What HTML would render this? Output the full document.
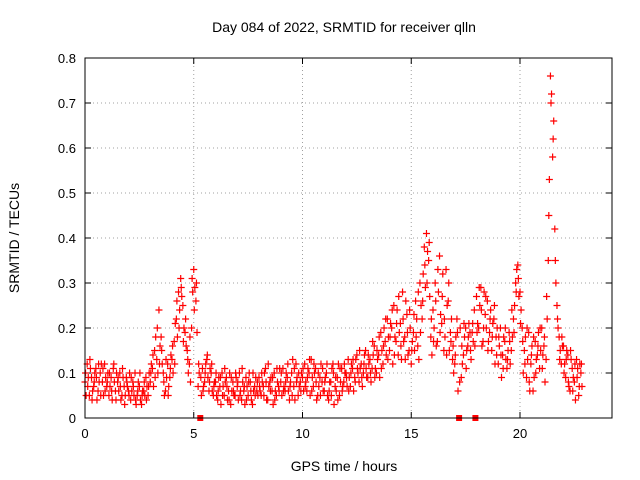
<!DOCTYPE html>
<html><head><meta charset="utf-8">
<style>
body{margin:0;background:#fff;}
svg{display:block;font-family:"Liberation Sans",sans-serif;}
</style></head>
<body>
<svg id="chart" width="640" height="480">
<text x="344" y="32" font-size="14" text-anchor="middle">Day 084 of 2022, SRMTID for receiver qlln</text>
<text x="344" y="471" font-size="14" text-anchor="middle">GPS time / hours</text>
<text transform="translate(19,238) rotate(-90)" font-size="14" text-anchor="middle">SRMTID / TECUs</text>
<g id="grid"></g><g id="ticks"></g><g id="marks"></g>
<rect x="85" y="58" width="527" height="360" fill="none" stroke="#000" stroke-width="1"/>
</svg>
<script>
const xTicks=[0,5,10,15,20];
const yTicks=[0,0.1,0.2,0.3,0.4,0.5,0.6,0.7,0.8];
const yTickLabels=["0","0.1","0.2","0.3","0.4","0.5","0.6","0.7","0.8"];
const timeStep=0.1;
const seriesA=[0.08,0.12,0.05,0.09,0.07,0.11,0.06,0.10,0.08,0.12,0.07,0.05,0.09,0.11,0.06,0.08,0.10,0.05,0.07,0.09,0.06,0.04,0.08,0.10,0.05,0.07,0.03,0.06,0.09,0.05,
0.08,0.11,0.15,0.13,0.24,0.18,0.10,0.06,0.12,0.09,
0.13,0.17,0.22,0.28,0.31,0.25,0.19,0.15,0.12,0.20,
0.33,0.26,0.07,0.00,0.11,0.08,0.13,0.06,0.10,0.05,
0.08,0.04,0.07,0.10,0.05,0.09,0.06,0.03,0.08,0.05,
0.07,0.10,0.04,0.06,0.09,0.05,0.08,0.03,0.07,0.06,
0.09,0.05,0.07,0.11,0.04,0.08,0.06,0.10,0.05,0.07,
0.08,0.11,0.06,0.09,0.04,0.10,0.07,0.12,0.05,0.08,
0.09,0.12,0.06,0.10,0.13,0.07,0.11,0.05,0.09,0.08,
0.06,0.10,0.04,0.08,0.12,0.07,0.09,0.05,0.11,0.08,
0.10,0.13,0.07,0.11,0.09,0.14,0.08,0.12,0.10,0.15,
0.09,0.13,0.11,0.16,0.10,0.14,0.19,0.12,0.17,0.22,
0.15,0.20,0.25,0.17,0.14,0.21,0.28,0.18,0.23,0.15,
0.12,0.19,0.26,0.16,0.30,0.22,0.38,0.41,0.35,0.18,
0.24,0.30,0.17,0.36,0.21,0.15,0.33,0.26,0.19,0.13,
0.12,0.22,0.00,0.09,0.14,0.20,0.16,0.19,0.19,0.24,
0.27,0.20,0.29,0.17,0.23,0.26,0.19,0.15,0.22,0.18,
0.12,0.20,0.14,0.17,0.11,0.19,0.15,0.22,0.30,0.34,
0.28,0.20,0.15,0.09,0.19,0.12,0.06,0.17,0.14,0.11,
0.20,0.16,0.13,0.35,0.76,0.58,0.42,0.25,0.18,0.12,
0.16,0.09,0.14,0.06,0.11,0.08,0.13,0.05,0.10];
const seriesB=[0.05,0.09,0.11,0.06,0.10,0.04,0.08,0.12,0.05,0.09,0.10,0.07,0.04,0.08,0.10,0.06,0.04,0.09,0.05,0.07,0.10,0.06,0.05,0.03,0.08,0.04,0.06,0.05,0.07,0.10,
0.12,0.07,0.18,0.10,0.16,0.12,0.05,0.09,0.07,0.14,
0.10,0.21,0.18,0.24,0.27,0.20,0.16,0.10,0.08,0.28,
0.29,0.19,0.10,0.05,0.07,0.12,0.09,0.11,0.06,0.08,
0.05,0.09,0.03,0.07,0.08,0.04,0.10,0.06,0.05,0.09,
0.04,0.06,0.08,0.03,0.07,0.10,0.04,0.06,0.09,0.05,
0.06,0.08,0.10,0.04,0.07,0.09,0.03,0.06,0.08,0.11,
0.05,0.07,0.10,0.06,0.08,0.13,0.04,0.09,0.07,0.10,
0.06,0.08,0.11,0.05,0.09,0.10,0.04,0.07,0.12,0.06,
0.09,0.05,0.08,0.11,0.03,0.06,0.12,0.08,0.07,0.10,
0.07,0.09,0.12,0.06,0.13,0.10,0.11,0.07,0.14,0.09,
0.12,0.08,0.14,0.11,0.13,0.09,0.15,0.20,0.14,0.18,
0.21,0.12,0.18,0.24,0.19,0.13,0.17,0.26,0.14,0.20,
0.17,0.15,0.22,0.13,0.25,0.32,0.29,0.37,0.27,0.14,
0.20,0.16,0.28,0.23,0.32,0.18,0.25,0.15,0.22,0.10,
0.18,0.06,0.20,0.12,0.18,0.15,0.21,0.13,0.17,0.00,
0.21,0.25,0.16,0.28,0.20,0.17,0.24,0.21,0.12,0.20,
0.16,0.09,0.18,0.13,0.15,0.12,0.18,0.25,0.33,0.27,
0.24,0.10,0.18,0.13,0.06,0.16,0.09,0.13,0.19,0.15,
0.14,0.08,0.22,0.53,0.72,0.66,0.30,0.20,0.15,0.16,
0.12,0.15,0.07,0.13,0.09,0.04,0.11,0.12,0.07];
const seriesC=[0.10,0.07,0.13,0.04,0.08,0.09,0.12,0.05,0.11,0.06,0.08,0.10,0.06,0.12,0.04,0.09,0.07,0.11,0.03,0.08,0.05,0.09,0.07,0.04,0.06,0.10,0.05,0.08,0.04,0.07,
0.10,0.14,0.09,0.20,0.12,0.15,0.08,0.13,0.05,0.11,
0.16,0.12,0.26,0.20,0.29,0.17,0.22,0.13,0.18,0.31,
0.24,0.30,0.12,0.09,0.06,0.10,0.14,0.08,0.12,0.07,
0.10,0.06,0.09,0.05,0.11,0.07,0.04,0.09,0.06,0.10,
0.08,0.05,0.11,0.07,0.04,0.08,0.06,0.10,0.05,0.08,
0.07,0.10,0.05,0.08,0.12,0.06,0.09,0.04,0.11,0.06,
0.10,0.06,0.08,0.12,0.07,0.05,0.11,0.08,0.10,0.06,
0.11,0.07,0.09,0.13,0.06,0.12,0.08,0.10,0.05,0.11,
0.08,0.12,0.06,0.05,0.10,0.09,0.04,0.11,0.06,0.12,
0.09,0.06,0.10,0.13,0.08,0.11,0.15,0.09,0.12,0.11,
0.14,0.10,0.17,0.09,0.15,0.18,0.11,0.16,0.22,0.13,
0.18,0.24,0.14,0.21,0.27,0.16,0.22,0.13,0.19,0.24,
0.15,0.23,0.18,0.28,0.19,0.26,0.34,0.30,0.39,0.22,
0.17,0.26,0.33,0.19,0.27,0.22,0.14,0.30,0.17,0.16,
0.14,0.19,0.08,0.16,0.21,0.11,0.18,0.15,0.21,0.16,
0.19,0.29,0.24,0.20,0.27,0.15,0.22,0.18,0.25,0.14,
0.18,0.14,0.11,0.20,0.13,0.17,0.24,0.19,0.28,0.31,
0.21,0.17,0.12,0.20,0.08,0.14,0.18,0.10,0.16,0.20,
0.11,0.18,0.27,0.45,0.70,0.62,0.35,0.22,0.13,0.18,
0.10,0.13,0.08,0.15,0.06,0.12,0.09,0.07,0.12];

const NS="http://www.w3.org/2000/svg";
const L=85,R=612,T=58,B=418,XMAX=24.23,YMAX=0.8;
function sx(v){return L+(v/XMAX)*(R-L);}
function sy(v){return B-(v/YMAX)*(B-T);}
const grid=document.getElementById('grid'),ticks=document.getElementById('ticks'),marks=document.getElementById('marks');
function mk(tag,attrs,parent){const e=document.createElementNS(NS,tag);for(const k in attrs)e.setAttribute(k,attrs[k]);parent.appendChild(e);return e;}
xTicks.forEach(t=>{
  const x=sx(t);
  if(t>0){const g=mk('line',{x1:x,x2:x,y1:T,y2:B,stroke:'#a0a0a0','stroke-dasharray':'1,3'},grid);
  
  }
  mk('line',{x1:x,x2:x,y1:B,y2:B-6,stroke:'#000'},ticks);
  mk('line',{x1:x,x2:x,y1:T,y2:T+6,stroke:'#000'},ticks);
  const tx=mk('text',{x:x,y:B+20,'font-size':13,'text-anchor':'middle'},ticks);
  tx.textContent=String(t);
  
  
});
yTicks.forEach((t,i)=>{
  const y=sy(t);
  if(i>0&&i<yTicks.length-1){const g=mk('line',{x1:L,x2:R,y1:y,y2:y,stroke:'#a0a0a0','stroke-dasharray':'1,3'},grid);
  
  }
  mk('line',{x1:L,x2:L+6,y1:y,y2:y,stroke:'#000'},ticks);
  mk('line',{x1:R,x2:R-6,y1:y,y2:y,stroke:'#000'},ticks);
  const tx=mk('text',{x:L-9,y:y+5,'font-size':13,'text-anchor':'end'},ticks);
  tx.textContent=yTickLabels[i];
  
  
});
function plus(t,v){
  const x=sx(t),y=sy(v);
  if(v<=0.001){
    const r=mk('rect',{x:x-3,y:y-3,width:6,height:6,fill:'#ff0000'},marks);
    
    
    return;
  }
  const p=mk('path',{d:`M${x-3.5},${y}H${x+3.5}M${x},${y-3.5}V${y+3.5}`,stroke:'#ff0000','stroke-width':1.2,fill:'none'},marks);
  
  
}
seriesA.forEach((v,i)=>plus(i*timeStep,v));
seriesB.forEach((v,i)=>plus(i*timeStep+timeStep/2,v));
seriesC.forEach((v,i)=>plus(i*timeStep+timeStep/4,v));
</script>
</body></html>
